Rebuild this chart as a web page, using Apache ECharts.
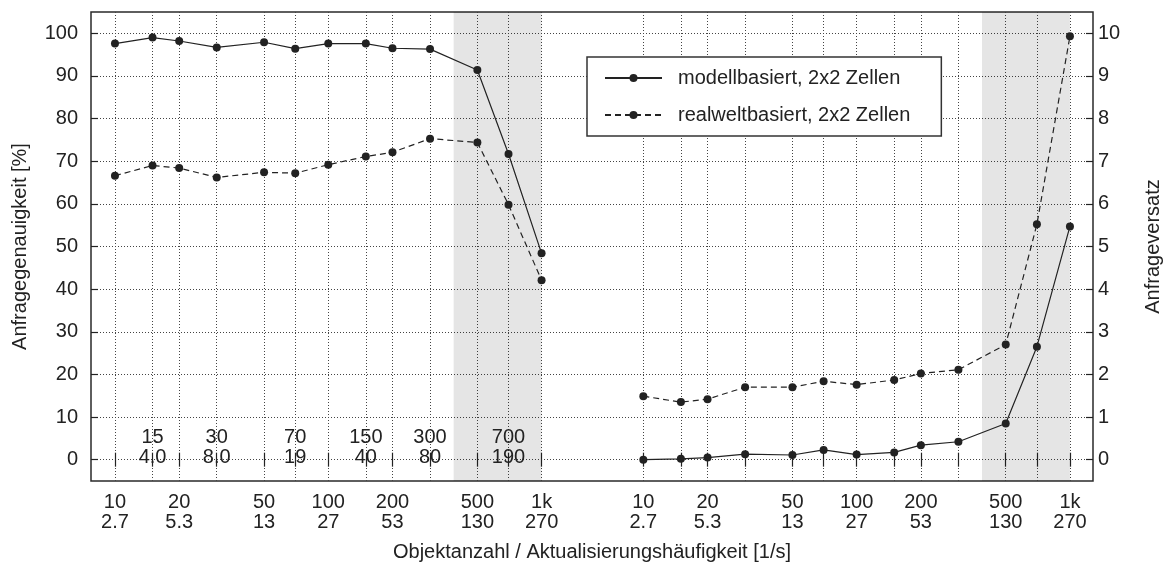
<!DOCTYPE html>
<html>
<head>
<meta charset="utf-8">
<script src="https://cdn.jsdelivr.net/npm/echarts@6/dist/echarts.min.js"></script>
<style>
  html, body { margin: 0; padding: 0; background: #fff; }
  #chart { width: 1165px; height: 566px; }
</style>
</head>
<body>
<div id="chart"></div>
<script>
// Object counts measured in both experiments
const objCounts = [10, 15, 20, 30, 50, 70, 100, 150, 200, 300, 500, 700, 1000];

// Query accuracy [%] (left panel, left axis)
const modelAccuracy = [97.6, 99.0, 98.2, 96.7, 97.9, 96.4, 97.6, 97.6, 96.5, 96.3, 91.4, 71.7, 48.4];
const realAccuracy  = [66.6, 69.0, 68.4, 66.2, 67.4, 67.2, 69.2, 71.1, 72.1, 75.3, 74.4, 59.8, 42.1];

// Query offset (right panel, right axis)
const modelOffset = [0.00, 0.02, 0.05, 0.13, 0.11, 0.23, 0.12, 0.17, 0.34, 0.42, 0.85, 2.65, 5.47];
const realOffset  = [1.49, 1.35, 1.42, 1.70, 1.70, 1.84, 1.76, 1.87, 2.02, 2.11, 2.70, 5.52, 9.93];

// Labelled x ticks: object count / update rate [1/s]
const labelCounts = [10, 20, 50, 100, 200, 500, 1000];
const countLabels = ['10', '20', '50', '100', '200', '500', '1k'];
const rateLabels  = ['2.7', '5.3', '13', '27', '53', '130', '270'];

// Intermediate ticks, annotated inside the left panel
const midCounts = [15, 30, 70, 150, 300, 700];
const midRates  = ['4.0', '8.0', '19', '40', '80', '190'];

// Overload range (shaded)
const overloadRange = [387, 1000];

// Y ticks
const accTicks = [0, 10, 20, 30, 40, 50, 60, 70, 80, 90, 100];
const offTicks = [0, 1, 2, 3, 4, 5, 6, 7, 8, 9, 10];

// Both panels share one log axis; the right panel is shifted by this factor
const PANEL_SHIFT = 300;

const FONT = 'Liberation Sans, Arial, Helvetica, sans-serif';
const INK = '#222';

const tickCounts = objCounts.concat(objCounts.map(n => n * PANEL_SHIFT));
const labelTickValues = labelCounts.concat(labelCounts.map(n => n * PANEL_SHIFT));

function xLabel(v) {
  const n = v > 1500 ? Math.round(v / PANEL_SHIFT) : Math.round(v);
  const i = labelCounts.indexOf(n);
  if (i < 0) return '';
  return countLabels[i] + '\n' + rateLabels[i];
}

const X_MIN = 7.72;
const X_MAX = 384800;

const chart = echarts.init(document.getElementById('chart'), null, { renderer: 'canvas' });

const lineCommon = {
  type: 'line',
  symbol: 'circle',
  symbolSize: 8,
  itemStyle: { color: INK },
  emphasis: { disabled: true },
  animation: false
};

chart.setOption({
  animation: false,
  textStyle: { fontFamily: FONT },
  grid: {
    left: 91, right: 72, top: 12, bottom: 85,
    outerBoundsMode: 'none',
    containLabel: false,
    show: true, borderColor: '#2a2a2a', borderWidth: 1.5,
    backgroundColor: 'transparent'
  },
  legend: {
    orient: 'vertical',
    left: 587, top: 57,
    data: ['modellbasiert, 2x2 Zellen', 'realweltbasiert, 2x2 Zellen'],
    itemWidth: 57, itemHeight: 10, itemGap: 17,
    padding: [11, 31, 11, 17],
    borderColor: '#333', borderWidth: 1.5,
    backgroundColor: '#fff',
    textStyle: { fontFamily: FONT, fontSize: 20, lineHeight: 20, color: INK, padding: [0, 0, 0, 11] }
  },
  xAxis: [
    {
      type: 'log', min: X_MIN, max: X_MAX, position: 'bottom',
      name: 'Objektanzahl / Aktualisierungshäufigkeit [1/s]',
      nameLocation: 'middle', nameGap: 61,
      nameTextStyle: { fontFamily: FONT, fontSize: 20, color: INK },
      axisLine: { show: false },
      axisTick: { show: true, inside: true, length: 7, customValues: tickCounts, lineStyle: { color: INK, width: 1.2 } },
      axisLabel: { show: true, customValues: labelTickValues, formatter: xLabel, margin: 11,
                   fontFamily: FONT, fontSize: 20, lineHeight: 20, color: INK },
      splitLine: { show: true, lineStyle: { color: '#444', width: 1, type: [1, 2] } },
      minorTick: { show: false }, minorSplitLine: { show: false }
    },
    {
      type: 'log', min: X_MIN, max: X_MAX, position: 'top',
      axisLine: { show: false },
      axisTick: { show: true, inside: true, length: 7, customValues: tickCounts, lineStyle: { color: INK, width: 1.2 } },
      axisLabel: { show: false },
      splitLine: { show: false }
    }
  ],
  yAxis: [
    {
      type: 'value', min: -5, max: 105, position: 'left',
      name: 'Anfragegenauigkeit [%]', nameLocation: 'middle', nameRotate: 90, nameGap: 61,
      nameTextStyle: { fontFamily: FONT, fontSize: 20, color: INK },
      axisLine: { show: false },
      axisTick: { show: true, inside: true, length: 7, customValues: accTicks, lineStyle: { color: INK, width: 1.2 } },
      axisLabel: { customValues: accTicks, margin: 13, fontFamily: FONT, fontSize: 20, color: INK },
      splitLine: { show: true, lineStyle: { color: '#444', width: 1, type: [1, 2] } }
    },
    {
      type: 'value', min: -0.5, max: 10.5, position: 'right',
      name: 'Anfrageversatz', nameLocation: 'middle', nameRotate: 90, nameGap: 50,
      nameTextStyle: { fontFamily: FONT, fontSize: 20, color: INK },
      axisLine: { show: false },
      axisTick: { show: true, inside: true, length: 7, customValues: offTicks, lineStyle: { color: INK, width: 1.2 } },
      axisLabel: { customValues: offTicks, margin: 5, fontFamily: FONT, fontSize: 20, color: INK },
      splitLine: { show: false }
    }
  ],
  series: [
    Object.assign({}, lineCommon, {
      name: 'modellbasiert, 2x2 Zellen',
      xAxisIndex: 0, yAxisIndex: 0,
      data: objCounts.map((n, i) => [n, modelAccuracy[i]]),
      lineStyle: { color: INK, width: 1.2, type: 'solid' },
      markArea: {
        silent: true,
        itemStyle: { color: 'rgba(0,0,0,0.1)' },
        data: [
          [{ xAxis: overloadRange[0] }, { xAxis: overloadRange[1] }],
          [{ xAxis: overloadRange[0] * PANEL_SHIFT }, { xAxis: overloadRange[1] * PANEL_SHIFT }]
        ]
      }
    }),
    Object.assign({}, lineCommon, {
      name: 'realweltbasiert, 2x2 Zellen',
      xAxisIndex: 0, yAxisIndex: 0,
      data: objCounts.map((n, i) => [n, realAccuracy[i]]),
      lineStyle: { color: INK, width: 1.2, type: [6, 4] }
    }),
    Object.assign({}, lineCommon, {
      name: 'modellbasiert, 2x2 Zellen',
      xAxisIndex: 0, yAxisIndex: 1,
      data: objCounts.map((n, i) => [n * PANEL_SHIFT, modelOffset[i]]),
      lineStyle: { color: INK, width: 1.2, type: 'solid' }
    }),
    Object.assign({}, lineCommon, {
      name: 'realweltbasiert, 2x2 Zellen',
      xAxisIndex: 0, yAxisIndex: 1,
      data: objCounts.map((n, i) => [n * PANEL_SHIFT, realOffset[i]]),
      lineStyle: { color: INK, width: 1.2, type: [6, 4] }
    }),
    {
      // count / rate for the unlabelled ticks
      type: 'scatter', name: 'mid',
      xAxisIndex: 0, yAxisIndex: 0,
      symbolSize: 0, silent: true, z: 5,
      itemStyle: { opacity: 1 },
      data: midCounts.map(n => [n, 2.75]),
      label: {
        show: true, position: 'inside',
        formatter: p => p.value[0] + '\n' + midRates[p.dataIndex],
        fontFamily: FONT, fontSize: 20, lineHeight: 20, color: INK, opacity: 1
      }
    }
  ]
});
</script>
</body>
</html>
